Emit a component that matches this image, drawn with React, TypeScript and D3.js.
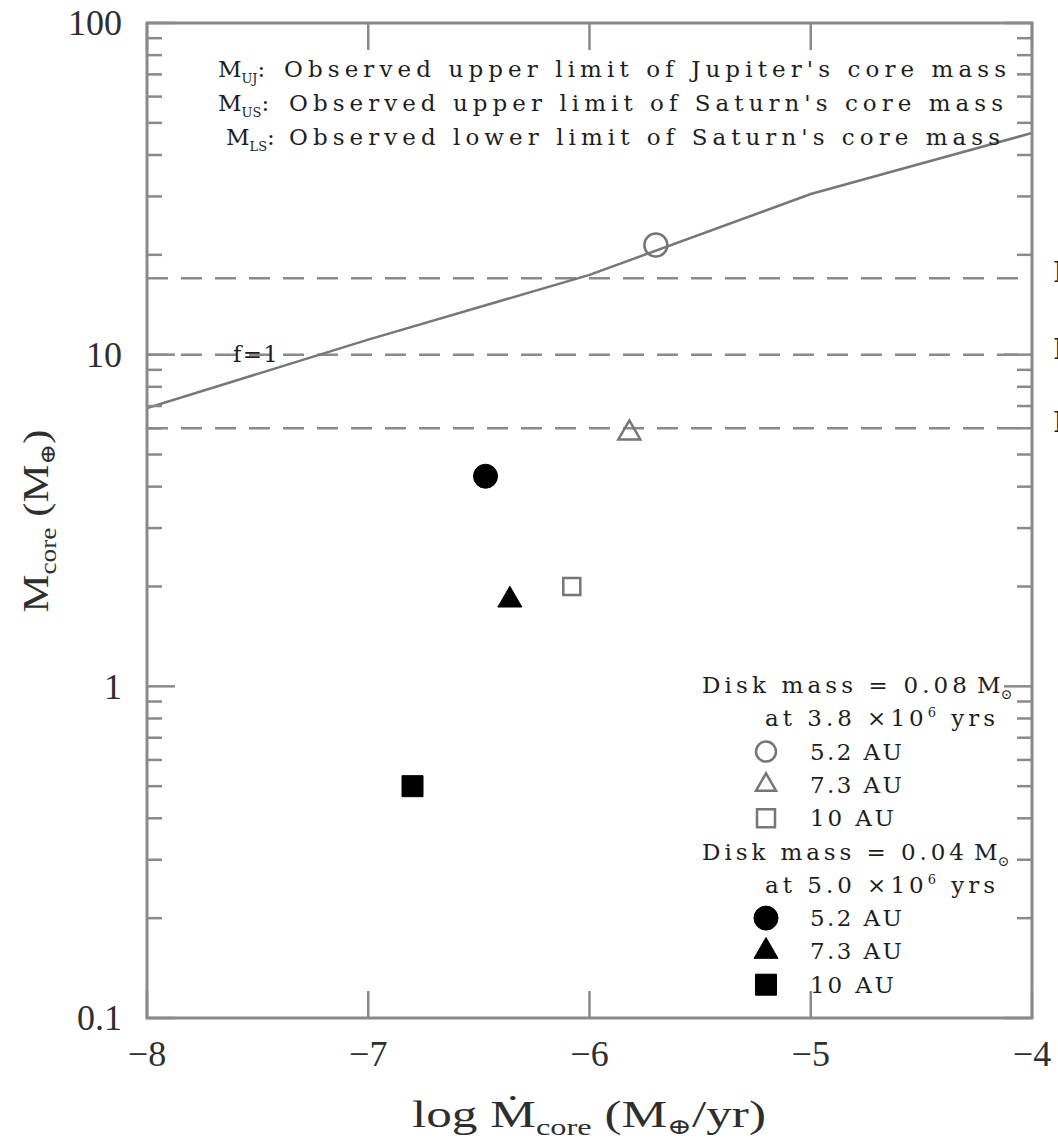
import React from 'react';
import * as d3 from 'd3';

// Axis domains and tick values
const xTicks = [-8, -7, -6, -5, -4];
const yMajor = [0.1, 1, 10, 100];
const yMajorText = ['0.1', '1', '10', '100'];

// f = 1 relation (log Mdot, Mcore)
const curveLogMdot = [-8, -7, -6, -5, -4];
const curveMcore = [6.9, 11.1, 17.4, 30.5, 46.6];

// Observed core-mass limits (Earth masses)
const limitValues = [17, 10, 6];
const limitSubs = ['US', 'UJ', 'LS'];

// Notes at top
const noteSubs = ['UJ', 'US', 'LS'];
const noteTexts = [
  "Observed upper limit of Jupiter's core mass",
  "Observed upper limit of Saturn's core mass",
  "Observed lower limit of Saturn's core mass",
];

// Model results
const distances = ['5.2 AU', '7.3 AU', '10 AU'];
const shapes = ['circle', 'triangle', 'square'];
const heavyDiskLogMdot = [-5.70, -5.82, -6.08]; // disk mass 0.08, open symbols
const heavyDiskMcore = [21.4, 5.8, 2.0];
const lightDiskLogMdot = [-6.47, -6.36, -6.80]; // disk mass 0.04, filled symbols
const lightDiskMcore = [4.3, 1.82, 0.5];

const W = 1058;
const H = 1141;
const L = 147, R = 1032, T = 23, B = 1018;
const axisCol = '#8a8a8a';
const textCol = '#2e2e2e';
const noteCol = '#1e1e1e';
const serif = '"Liberation Serif", "DejaVu Serif", serif';
const noteFont = '"DejaVu Serif", serif';

const x = d3.scaleLinear().domain([-8, -4]).range([L, R]);
const y = d3.scaleLog().domain([0.1, 100]).range([B, T]);

function symbolPath(shape: string, filled: boolean, legend = false) {
  let type = d3.symbolCircle;
  let size = 0;
  if (shape === 'circle') {
    type = d3.symbolCircle;
    const r = filled ? 12 : (legend ? 10 : 11.5);
    size = Math.PI * r * r;
  } else if (shape === 'triangle') {
    type = d3.symbolTriangle;
    const side = filled ? 24 : (legend ? 20 : 22);
    const yy = side / (2 * Math.sqrt(3));
    size = yy * yy * 3 * Math.sqrt(3);
  } else {
    type = d3.symbolSquare;
    const side = filled ? 21 : (legend ? 18 : 17);
    size = side * side;
  }
  return d3.symbol().type(type).size(size)() as string;
}

function Marker({ shape, filled, cx, cy, legend }: { shape: string; filled: boolean; cx: number; cy: number; legend?: boolean }) {
  return (
    <path
      d={symbolPath(shape, filled, legend)}
      transform={`translate(${cx},${cy})`}
      fill={filled ? '#000' : 'none'}
      stroke={filled ? '#000' : '#767676'}
      strokeWidth={filled ? 1 : 2.5}
    />
  );
}

export default function App() {
  const minorY: number[] = [];
  [0.1, 1, 10].forEach((d) => {
    for (let k = 2; k <= 9; k++) minorY.push(d * k);
  });

  const line = d3
    .line<number>()
    .x((_, i) => x(curveLogMdot[i]))
    .y((d) => y(d));

  const legendX = 766;
  const rowY = (i: number) => 685 + i * 33.3;

  return (
    <svg
      width={W}
      height={H}
      style={{ position: 'absolute', left: 0, top: 0, background: '#fff' }}
      fontFamily={serif}
    >
      <defs>
        <clipPath id="plotArea">
          <rect x={L} y={T} width={R - L} height={B - T} />
        </clipPath>
      </defs>

      {/* limit lines */}
      {limitValues.map((v, i) => (
        <line key={'lim' + i} x1={L} x2={R} y1={y(v)} y2={y(v)} stroke="#8a8a8a" strokeWidth={2.5} strokeDasharray="21 13" />
      ))}

      {/* f = 1 curve */}
      <path d={line(curveMcore) as string} fill="none" stroke="#777" strokeWidth={2.5} clipPath="url(#plotArea)" />
      <text x={233} y={362} fontSize={23} fontFamily={noteFont} fill={noteCol} textLength={45} lengthAdjust="spacing">f=1</text>

      {/* frame */}
      <rect x={L} y={T} width={R - L} height={B - T} fill="none" stroke={axisCol} strokeWidth={3} />

      {/* y ticks, both sides */}
      {minorY.map((v, i) => (
        <g key={'my' + i}>
          <line x1={L} x2={L + 15} y1={y(v)} y2={y(v)} stroke={axisCol} strokeWidth={2.5} />
          <line x1={R - 15} x2={R} y1={y(v)} y2={y(v)} stroke={axisCol} strokeWidth={2.5} />
        </g>
      ))}
      {yMajor.map((v, i) => (
        <g key={'My' + i}>
          <line x1={L} x2={L + 28} y1={y(v)} y2={y(v)} stroke={axisCol} strokeWidth={2.5} />
          <line x1={R - 28} x2={R} y1={y(v)} y2={y(v)} stroke={axisCol} strokeWidth={2.5} />
          <text x={122} y={y(v)} dy="0.34em" textAnchor="end" fontSize={36} fill={textCol}>
            {yMajorText[i]}
          </text>
        </g>
      ))}

      {/* x ticks, both sides */}
      {xTicks.map((v, i) => (
        <g key={'x' + i}>
          <line x1={x(v)} x2={x(v)} y1={B} y2={B - 27} stroke={axisCol} strokeWidth={2.5} />
          <line x1={x(v)} x2={x(v)} y1={T} y2={T + 27} stroke={axisCol} strokeWidth={2.5} />
          <text x={x(v)} y={1066} textAnchor="middle" fontSize={36} fill={textCol}>
            {'\u2212' + Math.abs(v)}
          </text>
        </g>
      ))}

      {/* axis titles */}
      <text x={589} y={1127} textAnchor="middle" fontSize={38} fill={textCol} textLength={354} lengthAdjust="spacingAndGlyphs">
        log {'\u1E40'}
        <tspan fontSize={24} dy={8}>core</tspan>
        <tspan dy={-8}> (M</tspan>
        <tspan fontSize={22} dy={7}>{'\u2295'}</tspan>
        <tspan dy={-7}>/yr)</tspan>
      </text>
      <text
        transform="translate(48,521) rotate(-90)"
        textAnchor="middle"
        fontSize={36}
        fill={textCol}
        textLength={183}
        lengthAdjust="spacingAndGlyphs"
      >
        M
        <tspan fontSize={23} dy={8}>core</tspan>
        <tspan dy={-8}> (M</tspan>
        <tspan fontSize={21} dy={7}>{'\u2295'}</tspan>
        <tspan dy={-7}>)</tspan>
      </text>

      {/* notes at top */}
      {noteTexts.map((t, i) => {
        const by = 77 + i * 34;
        const startX = i === 0 ? 284 : 289;
        const endX = [1006, 1003, 1000][i];
        return (
          <g key={'note' + i} fill={noteCol} fontSize={23} fontFamily={noteFont}>
            <text x={i === 2 ? 226 : 218} y={by}>
              M<tspan fontSize={13} dy={6}>{noteSubs[i]}</tspan>
              <tspan dy={-6}>:</tspan>
            </text>
            <text x={startX} y={by} textLength={endX - startX} lengthAdjust="spacing">
              {t}
            </text>
          </g>
        );
      })}

      {/* labels for limit lines at right edge */}
      {limitValues.map((v, i) => (
        <text key={'ll' + i} x={1053} y={y(v) + 4} fontSize={28} fontFamily={noteFont} fill={noteCol}>
          M<tspan fontSize={16} dy={6}>{limitSubs[i]}</tspan>
        </text>
      ))}

      {/* model points */}
      {heavyDiskLogMdot.map((v, i) => (
        <Marker key={'h' + i} shape={shapes[i]} filled={false} cx={x(v)} cy={y(heavyDiskMcore[i])} />
      ))}
      {lightDiskLogMdot.map((v, i) => (
        <Marker key={'l' + i} shape={shapes[i]} filled={true} cx={x(v)} cy={y(lightDiskMcore[i])} />
      ))}

      {/* legend */}
      <g fill={noteCol} fontSize={23} fontFamily={noteFont}>
        <text x={702} y={rowY(0) + 8} textLength={265} lengthAdjust="spacing">Disk mass = 0.08</text>
        <text x={977} y={rowY(0) + 8}>
          M<tspan fontSize={14} dy={6}>{'\u2299'}</tspan>
        </text>
        <text x={765} y={rowY(1) + 8} textLength={230} lengthAdjust="spacing">
          at 3.8 ×10<tspan fontSize={13} dy={-9}>6</tspan><tspan dy={9}> yrs</tspan>
        </text>
        {distances.map((d, i) => (
          <text key={'ld' + i} x={810} y={rowY(2 + i) + 8} textLength={d.length === 6 ? 92 : 84} lengthAdjust="spacing">{d}</text>
        ))}
        <text x={702} y={rowY(5) + 8} textLength={262} lengthAdjust="spacing">Disk mass = 0.04</text>
        <text x={974} y={rowY(5) + 8}>
          M<tspan fontSize={14} dy={6}>{'\u2299'}</tspan>
        </text>
        <text x={765} y={rowY(6) + 8} textLength={230} lengthAdjust="spacing">
          at 5.0 ×10<tspan fontSize={13} dy={-9}>6</tspan><tspan dy={9}> yrs</tspan>
        </text>
        {distances.map((d, i) => (
          <text key={'ld2' + i} x={810} y={rowY(7 + i) + 8} textLength={d.length === 6 ? 92 : 84} lengthAdjust="spacing">{d}</text>
        ))}
      </g>
      {shapes.map((s, i) => (
        <Marker key={'lo' + i} shape={s} filled={false} legend cx={legendX} cy={rowY(2 + i)} />
      ))}
      {shapes.map((s, i) => (
        <Marker key={'lf' + i} shape={s} filled={true} legend cx={legendX} cy={rowY(7 + i)} />
      ))}
    </svg>
  );
}
